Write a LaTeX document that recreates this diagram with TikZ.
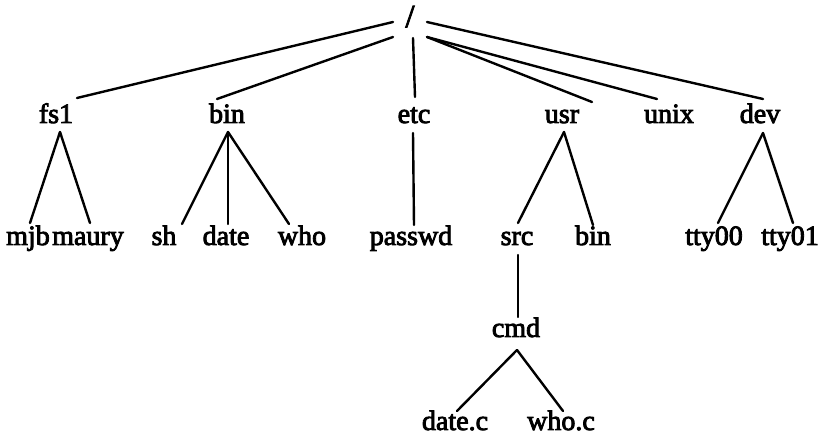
\documentclass[tikz,border=0pt]{standalone}
\usepackage{fontspec}
\setmainfont{Liberation Serif}
\newfontfamily\lblfont[FakeBold=3]{Liberation Serif}
\begin{document}
\begin{tikzpicture}[x=1pt,y=-1pt,
  lbl/.style={anchor=base,inner sep=0pt,font=\lblfont\fontsize{28}{34}\selectfont},
  edge/.style={line width=2.4pt,line cap=round}]
\useasboundingbox (0,0) rectangle (820,435);
% root
\node[lbl,font=\lblfont\fontsize{32}{36}\selectfont] (root) at (410,27) {/};
% level 1
\node[lbl] (fs1)  at (56,123)  {fs1};
\node[lbl] (bin)  at (227,123) {bin};
\node[lbl] (etc)  at (414,123) {etc};
\node[lbl] (usr)  at (562,123) {usr};
\node[lbl] (unix) at (669,123) {unix};
\node[lbl] (dev)  at (760,123) {dev};
% level 2
\node[lbl] (mjb)    at (28,245)  {mjb};
\node[lbl] (maury)  at (88,245)  {maury};
\node[lbl] (sh)     at (164,245) {sh};
\node[lbl] (date)   at (226,245) {date};
\node[lbl] (who)    at (302,245) {who};
\node[lbl] (passwd) at (411,245) {passwd};
\node[lbl] (src)    at (517,245) {src};
\node[lbl] (ubin)   at (593,245) {bin};
\node[lbl] (tty00)  at (714,245) {tty00};
\node[lbl] (tty01)  at (790,245) {tty01};
% level 3
\node[lbl] (cmd) at (516,337) {cmd};
% level 4
\node[lbl] (datec) at (455,430) {date.c};
\node[lbl] (whoc)  at (561,430) {who.c};
% root edges
\draw[edge] ([shift={(-17,-5)}]root.base) -- ([shift={(21,-25)}]fs1.base);
\draw[edge] ([shift={(-17,10)}]root.base) -- ([shift={(-10,-24)}]bin.base);
\draw[edge] ([shift={(3,11)}]root.base) -- ([shift={(1,-26)}]etc.base);
\draw[edge] ([shift={(17,10)}]root.base) -- ([shift={(30,-21)}]usr.base);
\draw[edge] ([shift={(17,10)}]root.base) -- ([shift={(-12,-24)}]unix.base);
\draw[edge] ([shift={(17,-5)}]root.base) -- ([shift={(3,-24)}]dev.base);
% fs1
\draw[edge] ([shift={(4,9)}]fs1.base) -- ([shift={(2,-22)}]mjb.base);
\draw[edge] ([shift={(4,9)}]fs1.base) -- ([shift={(2,-22)}]maury.base);
% bin
\draw[edge] ([shift={(1,9)}]bin.base) -- ([shift={(18,-21)}]sh.base);
\draw[edge] ([shift={(1,9)}]bin.base) -- ([shift={(2,-21)}]date.base);
\draw[edge] ([shift={(1,9)}]bin.base) -- ([shift={(-13,-21)}]who.base);
% etc
\draw[edge] ([shift={(-1,10)}]etc.base) -- ([shift={(3,-20)}]passwd.base);
% usr
\draw[edge] ([shift={(2,9)}]usr.base) -- ([shift={(1,-22)}]src.base);
\draw[edge] ([shift={(2,9)}]usr.base) -- ([shift={(0,-20)}]ubin.base);
% dev
\draw[edge] ([shift={(3,10)}]dev.base) -- ([shift={(4,-22)}]tty00.base);
\draw[edge] ([shift={(3,10)}]dev.base) -- ([shift={(3,-22)}]tty01.base);
% src-cmd
\draw[edge] ([shift={(1,10)}]src.base) -- ([shift={(2,-20)}]cmd.base);
% cmd
\draw[edge] ([shift={(1,13)}]cmd.base) -- ([shift={(2,-19)}]datec.base);
\draw[edge] ([shift={(1,13)}]cmd.base) -- ([shift={(2,-19)}]whoc.base);
\end{tikzpicture}
\end{document}
